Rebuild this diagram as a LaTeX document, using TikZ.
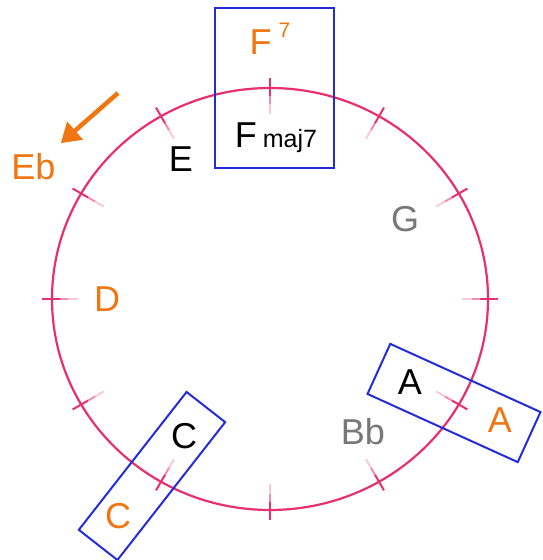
\documentclass[tikz,border=0pt]{standalone}
\usepackage{fontspec}
\setmainfont{Liberation Sans}
\usepackage{tikz}
\usetikzlibrary{arrows.meta,calc}
\definecolor{ringPink}{RGB}{232,48,108}
\definecolor{boxBlue}{RGB}{35,45,215}
\definecolor{noteOrange}{RGB}{240,118,18}
\definecolor{noteGray}{RGB}{120,120,120}

\begin{document}
\begin{tikzpicture}[
  x=1pt, y=1pt,
  font=\fontsize{36}{42}\selectfont,
  note/.style={inner sep=0pt, anchor=base},
  chordbox/.style={draw=boxBlue, line width=2pt, inner sep=0pt},
  ringline/.style={draw=ringPink, line width=2.2pt},
  arr/.style={-{Triangle[length=19pt,width=23pt]}, line width=4.5pt, noteOrange},
]
\useasboundingbox (0,0) rectangle (542,560);
\coordinate (ctr) at (270,261);
% ring
\draw[ringline] (ctr) ellipse [x radius=218, y radius=211];
% ticks, fading towards the inside
\foreach \a in {0,30,...,330} {
  \draw[ringPink!25, line width=2pt] ($(ctr)+(\a:218 and 211)+(\a:-26)$) -- ($(ctr)+(\a:218 and 211)+(\a:-16)$);
  \draw[ringPink!55, line width=2pt] ($(ctr)+(\a:218 and 211)+(\a:-16)$) -- ($(ctr)+(\a:218 and 211)+(\a:-8)$);
  \draw[ringPink, line width=2pt] ($(ctr)+(\a:218 and 211)+(\a:-8)$) -- ($(ctr)+(\a:218 and 211)+(\a:10)$);
}
% chord boxes
\node[chordbox, minimum width=119pt, minimum height=160pt] (boxF) at (274.5,472) {};
\node[chordbox, rotate=-24.4, minimum width=165pt, minimum height=55pt] (boxA) at (454,157) {};
\node[chordbox, rotate=52, minimum width=175pt, minimum height=49pt] (boxC) at (152,84) {};
% notes
\node[note, noteOrange] (F7) at (270,505) {F\hspace{7pt}\raisebox{17pt}{\fontsize{21}{24}\selectfont 7}};
\node[note] (Fmaj) at (276,412) {F\hspace{6pt}{\fontsize{25}{28}\selectfont maj7}};
\node[note] (E) at (181,388) {E};
\node[note, noteOrange] (Eb) at (33.5,380) {Eb};
\node[note, noteGray] (G) at (405,328) {G};
\node[note, noteOrange] (D) at (107,248) {D};
\node[note, noteGray] (Bb) at (363,115) {Bb};
\node[note] (Ain) at (410,165) {A};
\node[note, noteOrange] (Aout) at (500,127) {A};
\node[note] (Cin) at (184,111) {C};
\node[note, noteOrange] (Cout) at (118,31) {C};
% arrow to Eb
\coordinate (ebTail) at (118,467);
\draw[arr, shorten >=16pt] (ebTail) -- (Eb);
\end{tikzpicture}
\end{document}
